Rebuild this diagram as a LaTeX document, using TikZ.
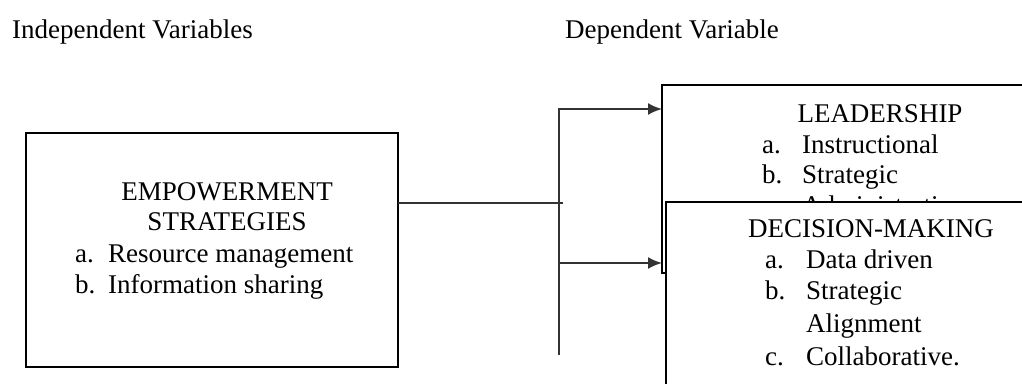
\documentclass[tikz,border=0pt]{standalone}
\usepackage{fontspec}
\setmainfont{Liberation Serif}
\usetikzlibrary{arrows.meta}
\begin{document}
\begin{tikzpicture}[x=1pt,y=-1pt,
  txt/.style={anchor=base west,inner sep=0pt,font=\fontsize{27}{32}\selectfont},
  ctxt/.style={anchor=base,inner sep=0pt,font=\fontsize{27}{32}\selectfont},
  boxframe/.style={draw=black,line width=1.9pt,fill=white},
  conn/.style={draw=black!80,line width=2pt},
  arr/.style={conn,-{Latex[length=14pt,width=12pt]}}]
\useasboundingbox (0,0) rectangle (1022,383);
\clip (0,0) rectangle (1022,383);
% headers
\node[txt] (hind) at (12,38) {Independent Variables};
\node[txt] (hdep) at (565,38) {Dependent Variable};
% left box
\draw[boxframe] (26,133) rectangle (398,367);
\coordinate (emp) at (398,203);
\node[ctxt] (e1) at (227,200) {EMPOWERMENT};
\node[ctxt] (e2) at (227,230) {STRATEGIES};
\node[txt] (ea) at (75,262) {a.};
\node[txt] (eat) at (108,262) {Resource management};
\node[txt] (eb) at (75,293) {b.};
\node[txt] (ebt) at (108,293) {Information sharing};
% leadership box
\draw[boxframe] (662,85) rectangle (1040,273);
\coordinate (leadin) at (662,109);
\node[ctxt] (l1) at (880,122) {LEADERSHIP};
\node[txt] (la) at (762,153) {a.};
\node[txt] (lat) at (802,153) {Instructional};
\node[txt] (lb) at (762,183) {b.};
\node[txt] (lbt) at (802,183) {Strategic};
\node[txt] (lc) at (762,214) {c.};
\node[txt] (lct) at (802,214) {Administrative};
% decision box (on top)
\draw[boxframe] (666,202) rectangle (1040,420);
\coordinate (decin) at (662,263);
\node[ctxt] (d1) at (871,237) {DECISION-MAKING};
\node[txt] (da) at (765,268) {a.};
\node[txt] (dat) at (806,268) {Data driven};
\node[txt] (db) at (765,299) {b.};
\node[txt] (dbt) at (806,299) {Strategic};
\node[txt] (dbt2) at (806,332) {Alignment};
\node[txt] (dc) at (765,365) {c.};
\node[txt] (dct) at (806,365) {Collaborative.};
% connectors
\coordinate (jmid) at (563,203);
\coordinate (jtop) at (559,108);
\coordinate (jbot) at (559,355);
\coordinate (jt) at (559,109);
\coordinate (jb) at (559,263);
\draw[conn] (emp) -- (jmid);
\draw[conn] (jtop) -- (jbot);
\draw[arr] (jt) -- (leadin);
\draw[arr] (jb) -- (decin);
\end{tikzpicture}
\end{document}
